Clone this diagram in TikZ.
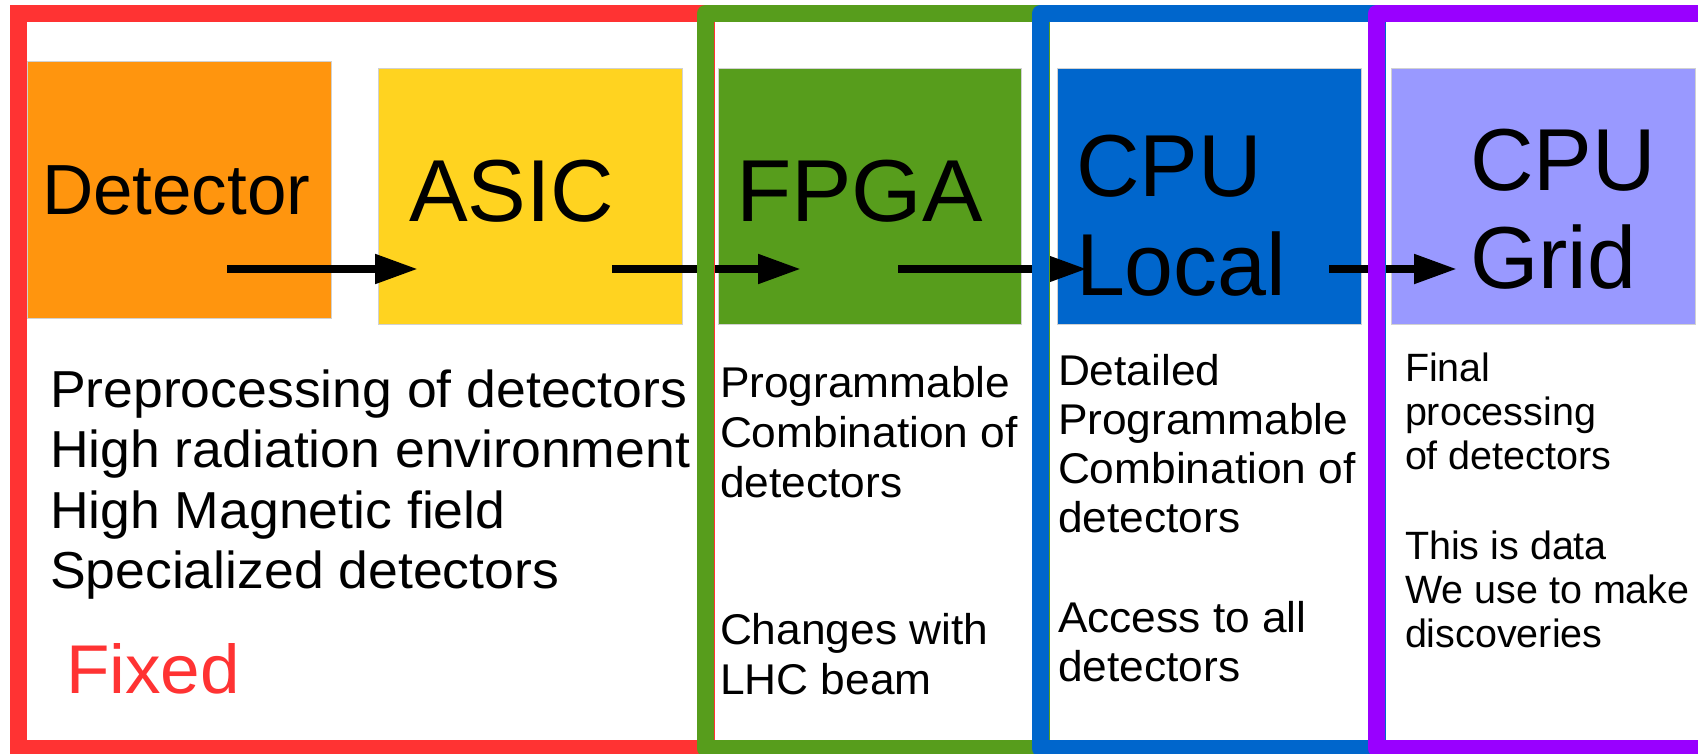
\documentclass[tikz,border=0pt]{standalone}
\usepackage{fontspec}
\setmainfont{Liberation Sans}
\newfontfamily\widesans{Liberation Sans}[FakeStretch=1.03]
\usetikzlibrary{arrows.meta}

\definecolor{frRed}{HTML}{FF3333}
\definecolor{frGreen}{HTML}{579D1C}
\definecolor{frBlue}{HTML}{0066CC}
\definecolor{frPurple}{HTML}{9900FF}
\definecolor{boxOrange}{HTML}{FF950E}
\definecolor{boxYellow}{HTML}{FFD320}
\definecolor{boxLav}{HTML}{9999FF}

\tikzset{
  stage/.style={rectangle, anchor=north west, inner sep=0pt, outer sep=0pt,
    draw=black!18, line width=1pt},
  frame/.style={line width=17pt},
  flow/.style={line width=8pt, -{Triangle[length=43pt,width=28pt]}},
  lbl/.style={anchor=base west, inner sep=0pt, outer sep=0pt},
  big/.style={lbl, font=\fontsize{88}{99}\selectfont},
  bodyL/.style={lbl, font=\widesans\fontsize{52}{61}\selectfont},
  bodyM/.style={lbl, font=\widesans\fontsize{43}{50}\selectfont},
  bodyS/.style={lbl, font=\fontsize{39.5}{44}\selectfont}
}

\begin{document}
\begin{tikzpicture}[x=1pt, y=-1pt]
\useasboundingbox (0,0) rectangle (1698,753);
\fill[white] (0,0) rectangle (1698,753);

% processing stages
\node[stage, fill=boxOrange, minimum width=304pt, minimum height=257pt] (det) at (27,61) {};
\node[stage, fill=boxYellow, minimum width=304pt, minimum height=256pt] (asic) at (378,68) {};
\node[stage, fill=frGreen, minimum width=303pt, minimum height=256pt] (fpga) at (718,68) {};
\node[stage, fill=frBlue, minimum width=304pt, minimum height=256pt] (cpul) at (1057,68) {};
\node[stage, fill=boxLav, minimum width=304pt, minimum height=256pt] (cpug) at (1391,68) {};

% data flow between stages
\coordinate (a1s) at (227,269); \coordinate (a1e) at (418,269);
\coordinate (a2s) at (612,269); \coordinate (a2e) at (801,269);
\coordinate (a3s) at (898,269); \coordinate (a3e) at (1087,269);
\coordinate (a4s) at (1329,269); \coordinate (a4e) at (1457,269);
\draw[flow] (a1s) -- (a1e);
\draw[flow] (a2s) -- (a2e);
\draw[flow] (a3s) -- (a3e);
\draw[flow] (a4s) -- (a4e);

% stage titles
\node[lbl, font=\fontsize{71}{80}\selectfont] (tdet) at (42,214) {Detector};
\node[big] (tasic) at (409,221) {ASIC};
\node[big, font=\widesans\fontsize{88}{99}\selectfont] (tfpga) at (736,221) {FPGA};
\node[big] (tcpu1) at (1076,196) {CPU};
\node[big] (tloc) at (1076,295) {Local};
\node[big] (tcpu2) at (1470,190) {CPU};
\node[big] (tgrid) at (1470,288) {Grid};

% fixed front end
\node[bodyL] (l1) at (50,407) {Preprocessing of detectors};
\node[bodyL] (l2) at (50,467) {High radiation environment};
\node[bodyL] (l3) at (50,528) {High Magnetic field};
\node[bodyL] (l4) at (50,588) {Specialized detectors};
\node[lbl, font=\widesans\fontsize{69}{78}\selectfont, text=frRed] (fixed) at (66,693) {Fixed};

% FPGA
\node[bodyM] (g1) at (720,397) {Programmable};
\node[bodyM] (g2) at (720,447) {Combination of};
\node[bodyM] (g3) at (720,497) {detectors};
\node[bodyM] (g4) at (720,644) {Changes with};
\node[bodyM] (g5) at (720,694) {LHC beam};

% local CPU farm
\node[bodyM] (b1) at (1058,385) {Detailed};
\node[bodyM] (b2) at (1058,434) {Programmable};
\node[bodyM] (b3) at (1058,483) {Combination of};
\node[bodyM] (b4) at (1058,532) {detectors};
\node[bodyM] (b5) at (1058,632) {Access to all};
\node[bodyM] (b6) at (1058,681) {detectors};

% grid
\node[bodyS] (p1) at (1405,381) {Final};
\node[bodyS] (p2) at (1405,425) {processing};
\node[bodyS] (p3) at (1405,469) {of detectors};
\node[bodyS] (p4) at (1405,559) {This is data};
\node[bodyS] (p5) at (1405,603) {We use to make};
\node[bodyS] (p6) at (1405,647) {discoveries};

% grouping frames
\draw[frame, frRed, line join=miter] (18.5,13.5) rectangle (706,748.5);
\draw[frame, frGreen, line join=round] (705.5,13.5) rectangle (1041,748.5);
\draw[frame, frBlue, line join=round] (1040.5,13.5) rectangle (1377,748.5);
\draw[frame, frPurple, line join=round] (1376.5,13.5) rectangle (1730,748.5);
\end{tikzpicture}
\end{document}
